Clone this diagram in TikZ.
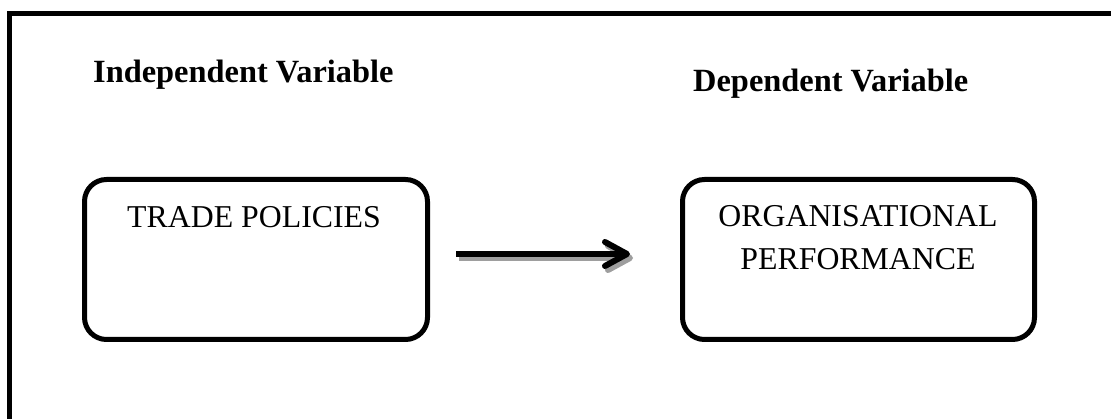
\documentclass[tikz,border=0pt]{standalone}
\usepackage{fontspec}
\setmainfont{Liberation Serif}
\usetikzlibrary{arrows.meta}
\tikzset{
  varbox/.style={draw, line width=5pt, rounded corners=22pt, minimum width=343pt, minimum height=160pt, inner sep=0pt},
  boxtext/.style={inner sep=0pt, anchor=base, font=\fontsize{31.8}{43}\selectfont},
  headtext/.style={inner sep=0pt, anchor=base west, font=\fontsize{32.4}{43}\selectfont\bfseries},
  mainarrow/.style={line width=6pt, -{Straight Barb[length=22pt, width=24pt, round]}},
}
\begin{document}
\begin{tikzpicture}[x=1pt,y=1pt]
\useasboundingbox (0,0) rectangle (1111,419);
\clip (0,0) rectangle (1111,419);
% outer frame (only top and left edges visible)
\draw[line width=5pt] (9.5,-30) -- (9.5,405.5) -- (1140,405.5);
% headers
\node[headtext] (hind) at (93,336) {Independent Variable};
\node[headtext] (hdep) at (693,327) {Dependent Variable};
% boxes
\node[varbox] (tp) at (256,159.5) {};
\node[varbox, minimum width=352pt] (op) at (858.5,159.5) {};
\node[boxtext] (tpt) at (254,191) {TRADE POLICIES};
\node[boxtext] (opt1) at (858,192) {ORGANISATIONAL};
\node[boxtext] (opt2) at (858,149) {PERFORMANCE};
% arrow with shadow
\coordinate (a1) at (456,165);
\coordinate (a2) at (630,165);
\draw[mainarrow, black!38] ([shift={(3pt,-4pt)}]a1) -- ([shift={(3pt,-4pt)}]a2);
\draw[mainarrow, black] (a1) -- (a2);
\end{tikzpicture}
\end{document}
